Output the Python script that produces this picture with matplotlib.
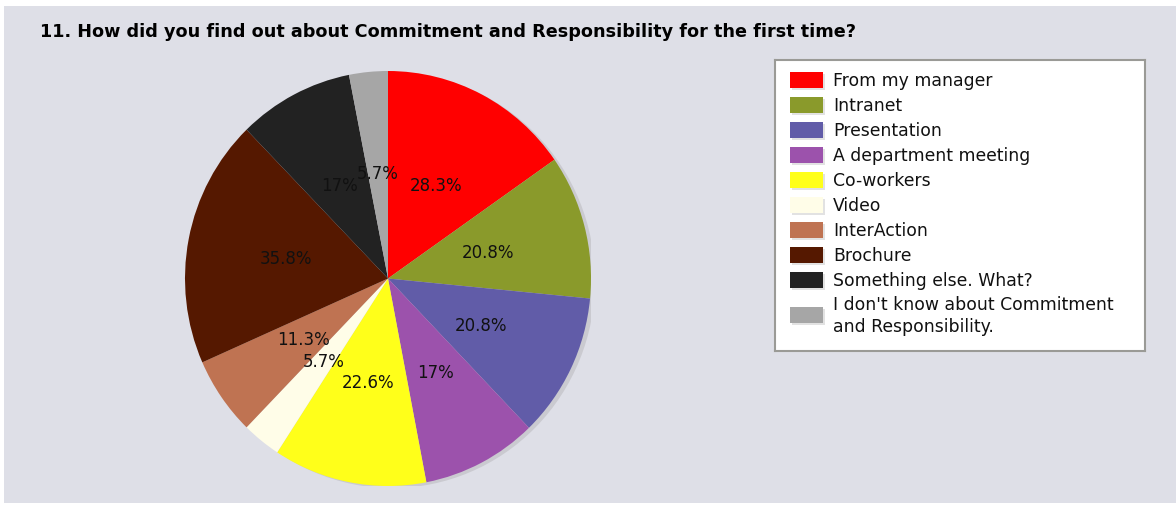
import numpy as np
import matplotlib
matplotlib.use('Agg')
import matplotlib.pyplot as plt
from matplotlib.patches import Rectangle, Circle

# 调查结果 (多选, 百分比)
categories = ['From my manager', 'Intranet', 'Presentation', 'A department meeting',
              'Co-workers', 'Video', 'InterAction', 'Brochure', 'Something else. What?',
              "I don't know about Commitment\nand Responsibility."]
values = [28.3, 20.8, 20.8, 17, 22.6, 5.7, 11.3, 35.8, 17, 5.7]
colors = ['#ff0000', '#8a9a2b', '#615ca8', '#9c52ac', '#ffff1a',
          '#fffde8', '#bf7352', '#551800', '#222222', '#a6a6a6']
title = '11. How did you find out about Commitment and Responsibility for the first time?'

W, H = 1176, 506
fig = plt.figure(figsize=(W / 100, H / 100), dpi=100)
fig.patch.set_facecolor('white')

# 背景面板
fig.patches.append(Rectangle((4 / W, 2 / H), (W - 4) / W, (H - 9) / H,
                             transform=fig.transFigure, facecolor='#dedfe7',
                             edgecolor='none', zorder=-5))

fig.text(40 / W, 1 - 32 / H, title, fontsize=12.7, fontweight='bold',
         ha='left', va='center', color='black')

# 饼图 (像素坐标里略呈椭圆)
cx, cy, rx, ry = 388, 279.5, 203, 207.5
ax = fig.add_axes([(cx - rx) / W, (H - cy - ry) / H, 2 * rx / W, 2 * ry / H])
ax.add_patch(Circle((0.02, -0.01), 1.0, facecolor='#cacad0', edgecolor='none', zorder=0))
wedges, _ = ax.pie(values, colors=colors, startangle=90, counterclock=False,
                   radius=1.0, wedgeprops=dict(linewidth=0))
ax.set_aspect('auto')
ax.set_xlim(-1, 1)
ax.set_ylim(-1, 1)
ax.axis('off')
for w, v in zip(wedges, values):
    w.set_zorder(1)
    ang = np.deg2rad((w.theta1 + w.theta2) / 2)
    ax.text(0.51 * np.cos(ang), 0.51 * np.sin(ang), f'{v:g}%', fontsize=12,
            ha='center', va='center', color='#111111', zorder=3)

# 图例
lx0, ly0, lx1, ly1 = 775, 61, 1145, 352
lax = fig.add_axes([lx0 / W, (H - ly1) / H, (lx1 - lx0) / W, (ly1 - ly0) / H])
lax.set_xlim(0, lx1 - lx0)
lax.set_ylim(ly1 - ly0, 0)
lax.set_xticks([])
lax.set_yticks([])
lax.set_facecolor('white')
for s in lax.spines.values():
    s.set_color('#9a9a96')
    s.set_linewidth(1.5)

rows = [20 + 25 * i for i in range(9)] + [255]
for y, lab, c in zip(rows, categories, colors):
    lax.add_patch(Rectangle((17, y - 6), 33, 16, facecolor='#e2e2e2', edgecolor='none'))
    lax.add_patch(Rectangle((15, y - 8), 33, 16, facecolor=c, edgecolor='none'))
    lax.text(58, y, lab, fontsize=12.4, ha='left', va='center', color='#111111',
             linespacing=1.3)

fig.savefig('out.png', dpi=100, facecolor=fig.get_facecolor())
